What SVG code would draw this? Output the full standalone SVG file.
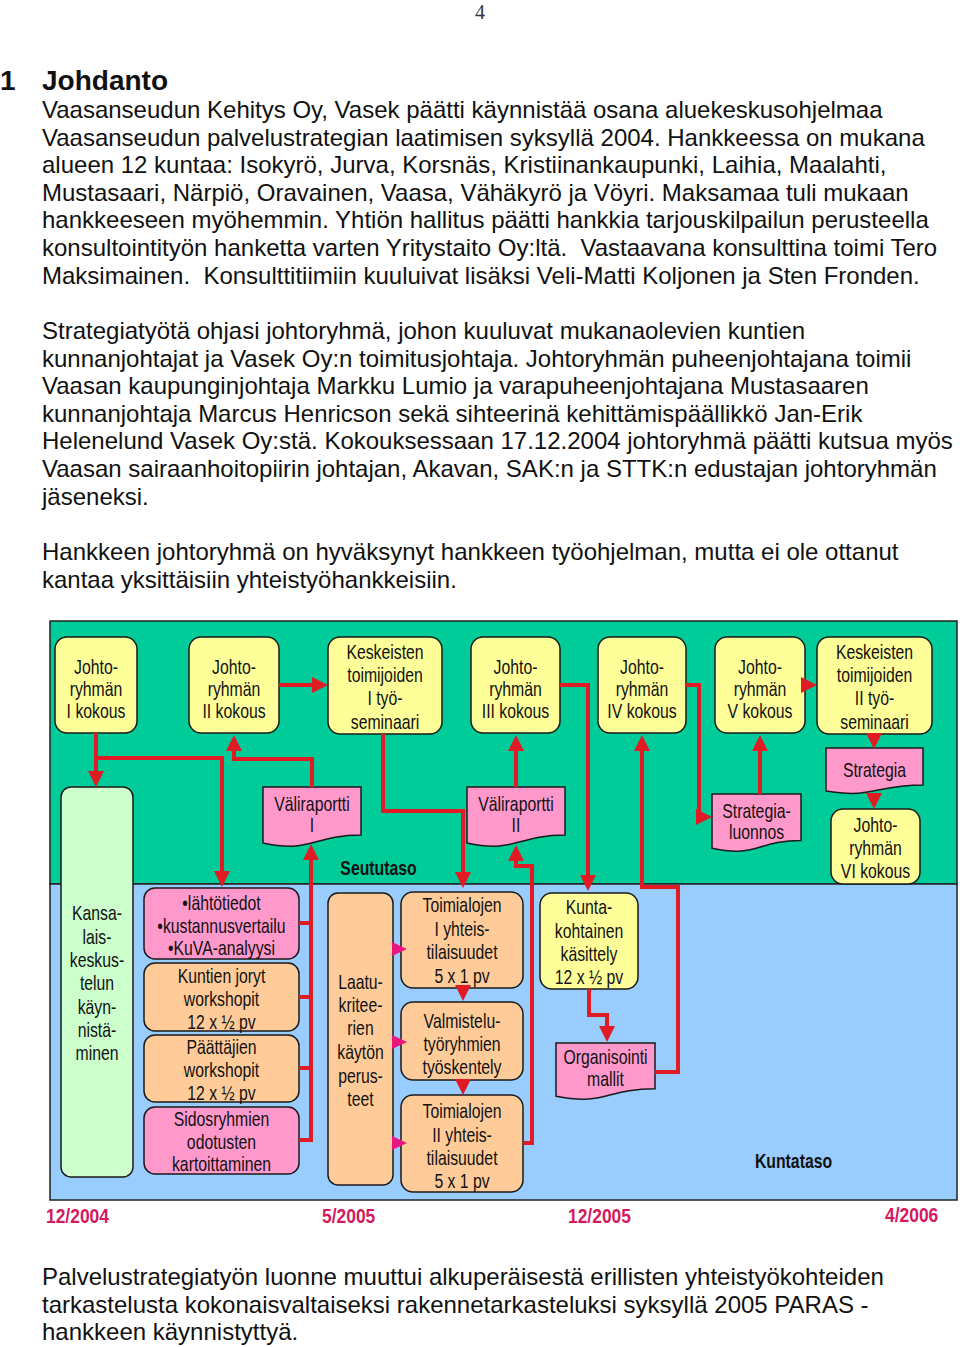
<svg xmlns="http://www.w3.org/2000/svg" width="960" height="1347" viewBox="0 0 960 1347">
<style>
.body{font-family:"Liberation Sans",Arial,sans-serif;font-size:24px;fill:#111}
.h{font-family:"Liberation Sans",Arial,sans-serif;font-size:28px;font-weight:bold;fill:#111}
.pg{font-family:"Liberation Serif","Times New Roman",serif;font-size:20px;fill:#333}
.nt{font-family:"Liberation Sans",Arial,sans-serif;font-size:20.5px;text-anchor:middle;fill:#111}
.lbl{font-family:"Liberation Sans",Arial,sans-serif;font-size:19.5px;font-weight:bold;text-anchor:middle;fill:#111}
.dt{font-family:"Liberation Sans",Arial,sans-serif;font-size:21px;font-weight:bold;fill:#d31a5f}
.yel{fill:#ffff99;stroke:#1a1a1a;stroke-width:1.5}
.lg{fill:#ccffcc;stroke:#1a1a1a;stroke-width:1.5}
.pk{fill:#ff99cc;stroke:#1a1a1a;stroke-width:1.5}
.or{fill:#ffcc99;stroke:#1a1a1a;stroke-width:1.5}
.ln{fill:none;stroke:#e01b24;stroke-width:4;stroke-linejoin:miter}
.lnm{fill:none;stroke:#e8177f;stroke-width:3}
</style>
<defs>
<marker id="ar" markerUnits="userSpaceOnUse" markerWidth="16" markerHeight="16" viewBox="0 0 16 16" refX="2" refY="8" orient="auto"><path d="M0,0 L16,8 L0,16 z" fill="#e01b24"/></marker>
<marker id="am" markerUnits="userSpaceOnUse" markerWidth="15" markerHeight="14" viewBox="0 0 15 14" refX="2" refY="7" orient="auto"><path d="M0,0 L15,7 L0,14 z" fill="#e8177f"/></marker>
</defs>
<rect x="0" y="0" width="960" height="1347" fill="#ffffff"/>

<g id="page-text">
<text class="pg" x="480" y="19" text-anchor="middle">4</text>
<text class="h" x="0" y="90">1</text>
<text class="h" x="42" y="90">Johdanto</text>
<text class="body" x="42" y="118">Vaasanseudun Kehitys Oy, Vasek päätti käynnistää osana aluekeskusohjelmaa</text>
<text class="body" x="42" y="145.6">Vaasanseudun palvelustrategian laatimisen syksyllä 2004. Hankkeessa on mukana</text>
<text class="body" x="42" y="173.2">alueen 12 kuntaa: Isokyrö, Jurva, Korsnäs, Kristiinankaupunki, Laihia, Maalahti,</text>
<text class="body" x="42" y="200.8">Mustasaari, Närpiö, Oravainen, Vaasa, Vähäkyrö ja Vöyri. Maksamaa tuli mukaan</text>
<text class="body" x="42" y="228.4">hankkeeseen myöhemmin. Yhtiön hallitus päätti hankkia tarjouskilpailun perusteella</text>
<text class="body" x="42" y="256" xml:space="preserve">konsultointityön hanketta varten Yritystaito Oy:ltä.  Vastaavana konsulttina toimi Tero</text>
<text class="body" x="42" y="283.6" xml:space="preserve">Maksimainen.  Konsulttitiimiin kuuluivat lisäksi Veli-Matti Koljonen ja Sten Fronden.</text>
<text class="body" x="42" y="339">Strategiatyötä ohjasi johtoryhmä, johon kuuluvat mukanaolevien kuntien</text>
<text class="body" x="42" y="366.6">kunnanjohtajat ja Vasek Oy:n toimitusjohtaja. Johtoryhmän puheenjohtajana toimii</text>
<text class="body" x="42" y="394.2">Vaasan kaupunginjohtaja Markku Lumio ja varapuheenjohtajana Mustasaaren</text>
<text class="body" x="42" y="421.8">kunnanjohtaja Marcus Henricson sekä sihteerinä kehittämispäällikkö Jan-Erik</text>
<text class="body" x="42" y="449.4">Helenelund Vasek Oy:stä. Kokouksessaan 17.12.2004 johtoryhmä päätti kutsua myös</text>
<text class="body" x="42" y="477">Vaasan sairaanhoitopiirin johtajan, Akavan, SAK:n ja STTK:n edustajan johtoryhmän</text>
<text class="body" x="42" y="504.6">jäseneksi.</text>
<text class="body" x="42" y="560">Hankkeen johtoryhmä on hyväksynyt hankkeen työohjelman, mutta ei ole ottanut</text>
<text class="body" x="42" y="587.6">kantaa yksittäisiin yhteistyöhankkeisiin.</text>
<text class="body" x="42" y="1285">Palvelustrategiatyön luonne muuttui alkuperäisestä erillisten yhteistyökohteiden</text>
<text class="body" x="42" y="1312.6">tarkastelusta kokonaisvaltaiseksi rakennetarkasteluksi syksyllä 2005 PARAS -</text>
<text class="body" x="42" y="1340.2">hankkeen käynnistyttyä.</text>
</g>

<g id="background">
<rect x="50" y="621" width="907" height="263" fill="#00cc99" stroke="#222" stroke-width="1.5"/>
<rect x="50" y="884" width="907" height="316" fill="#99ccff" stroke="#222" stroke-width="1.5"/>
<text class="lbl" transform="matrix(0.81 0 0 1 378.5 0)" x="0" y="875">Seututaso</text>
<text class="lbl" transform="matrix(0.81 0 0 1 793.5 0)" x="0" y="1168">Kuntataso</text>
</g>

<g id="johto1">
<rect class="yel" x="55" y="637" width="82" height="96" rx="12"/>
<text class="nt" transform="matrix(0.77 0 0 1 96 0)"><tspan x="0" y="674">Johto-</tspan><tspan x="0" y="696">ryhmän</tspan><tspan x="0" y="718">I kokous</tspan></text>
</g>
<g id="johto2">
<rect class="yel" x="189" y="637" width="90" height="96" rx="12"/>
<text class="nt" transform="matrix(0.77 0 0 1 234 0)"><tspan x="0" y="674">Johto-</tspan><tspan x="0" y="696">ryhmän</tspan><tspan x="0" y="718">II kokous</tspan></text>
</g>
<g id="seminaari1">
<rect class="yel" x="328" y="637" width="114" height="97" rx="12"/>
<text class="nt" transform="matrix(0.77 0 0 1 385 0)"><tspan x="0" y="659">Keskeisten</tspan><tspan x="0" y="682">toimijoiden</tspan><tspan x="0" y="705">I työ-</tspan><tspan x="0" y="729">seminaari</tspan></text>
</g>
<g id="johto3">
<rect class="yel" x="471" y="637" width="89" height="96" rx="12"/>
<text class="nt" transform="matrix(0.77 0 0 1 515.5 0)"><tspan x="0" y="674">Johto-</tspan><tspan x="0" y="696">ryhmän</tspan><tspan x="0" y="718">III kokous</tspan></text>
</g>
<g id="johto4">
<rect class="yel" x="598" y="637" width="88" height="96" rx="12"/>
<text class="nt" transform="matrix(0.77 0 0 1 642 0)"><tspan x="0" y="674">Johto-</tspan><tspan x="0" y="696">ryhmän</tspan><tspan x="0" y="718">IV kokous</tspan></text>
</g>
<g id="johto5">
<rect class="yel" x="715" y="637" width="90" height="96" rx="12"/>
<text class="nt" transform="matrix(0.77 0 0 1 760 0)"><tspan x="0" y="674">Johto-</tspan><tspan x="0" y="696">ryhmän</tspan><tspan x="0" y="718">V kokous</tspan></text>
</g>
<g id="seminaari2">
<rect class="yel" x="817" y="637" width="115" height="97" rx="12"/>
<text class="nt" transform="matrix(0.77 0 0 1 874.5 0)"><tspan x="0" y="659">Keskeisten</tspan><tspan x="0" y="682">toimijoiden</tspan><tspan x="0" y="705">II työ-</tspan><tspan x="0" y="729">seminaari</tspan></text>
</g>
<g id="strategia">
<path class="pk" d="M826,748 H923 V784.9 C874.5,784.9 874.5,798.9 826,791 Z"/>
<text class="nt" transform="matrix(0.77 0 0 1 874.5 0)" x="0" y="777">Strategia</text>
</g>
<g id="johto6">
<rect class="yel" x="831" y="809" width="89" height="75" rx="12"/>
<text class="nt" transform="matrix(0.77 0 0 1 875.5 0)"><tspan x="0" y="832">Johto-</tspan><tspan x="0" y="855">ryhmän</tspan><tspan x="0" y="878">VI kokous</tspan></text>
</g>
<g id="strategialuonnos">
<path class="pk" d="M712,794 H801 V840.5 C756.5,840.5 756.5,858.2 712,848.2 Z"/>
<text class="nt" transform="matrix(0.77 0 0 1 756.5 0)"><tspan x="0" y="818">Strategia-</tspan><tspan x="0" y="839">luonnos</tspan></text>
</g>
<g id="valiraportti1">
<path class="pk" d="M263,787 H361 V835.1 C312,835.1 312,853.4 263,843 Z"/>
<text class="nt" transform="matrix(0.77 0 0 1 312 0)"><tspan x="0" y="811">Väliraportti</tspan><tspan x="0" y="832">I</tspan></text>
</g>
<g id="valiraportti2">
<path class="pk" d="M467,787 H565 V835.1 C516,835.1 516,853.4 467,843 Z"/>
<text class="nt" transform="matrix(0.77 0 0 1 516 0)"><tspan x="0" y="811">Väliraportti</tspan><tspan x="0" y="832">II</tspan></text>
</g>
<g id="kansalaiskeskustelu">
<rect class="lg" x="61" y="787" width="72" height="390" rx="10"/>
<text class="nt" transform="matrix(0.77 0 0 1 97 0)"><tspan x="0" y="920">Kansa-</tspan><tspan x="0" y="944">lais-</tspan><tspan x="0" y="967">keskus-</tspan><tspan x="0" y="990">telun</tspan><tspan x="0" y="1014">käyn-</tspan><tspan x="0" y="1037">nistä-</tspan><tspan x="0" y="1060">minen</tspan></text>
</g>
<g id="lahtotiedot">
<rect class="pk" x="144" y="888" width="155" height="71" rx="11"/>
<text class="nt" transform="matrix(0.77 0 0 1 221.5 0)"><tspan x="0" y="910">•lähtötiedot</tspan><tspan x="0" y="933">•kustannusvertailu</tspan><tspan x="0" y="955">•KuVA-analyysi</tspan></text>
</g>
<g id="kuntienjoryt">
<rect class="or" x="144" y="963" width="155" height="68" rx="11"/>
<text class="nt" transform="matrix(0.77 0 0 1 221.5 0)"><tspan x="0" y="983">Kuntien joryt</tspan><tspan x="0" y="1006">workshopit</tspan><tspan x="0" y="1029">12 x ½ pv</tspan></text>
</g>
<g id="paattajien">
<rect class="or" x="144" y="1035" width="155" height="67" rx="11"/>
<text class="nt" transform="matrix(0.77 0 0 1 221.5 0)"><tspan x="0" y="1054">Päättäjien</tspan><tspan x="0" y="1077">workshopit</tspan><tspan x="0" y="1100">12 x ½ pv</tspan></text>
</g>
<g id="sidosryhmien">
<rect class="pk" x="144" y="1107" width="155" height="67" rx="11"/>
<text class="nt" transform="matrix(0.77 0 0 1 221.5 0)"><tspan x="0" y="1126">Sidosryhmien</tspan><tspan x="0" y="1149">odotusten</tspan><tspan x="0" y="1171">kartoittaminen</tspan></text>
</g>
<g id="laatukriteerit">
<rect class="or" x="328" y="893" width="65" height="292" rx="10"/>
<text class="nt" transform="matrix(0.77 0 0 1 360.5 0)"><tspan x="0" y="989">Laatu-</tspan><tspan x="0" y="1012">kritee-</tspan><tspan x="0" y="1035">rien</tspan><tspan x="0" y="1059">käytön</tspan><tspan x="0" y="1083">perus-</tspan><tspan x="0" y="1106">teet</tspan></text>
</g>
<g id="toimialojen1">
<rect class="or" x="401" y="892" width="122" height="96" rx="12"/>
<text class="nt" transform="matrix(0.77 0 0 1 462 0)"><tspan x="0" y="912">Toimialojen</tspan><tspan x="0" y="936">I yhteis-</tspan><tspan x="0" y="959">tilaisuudet</tspan><tspan x="0" y="983">5 x 1 pv</tspan></text>
</g>
<g id="valmistelu">
<rect class="or" x="401" y="1002" width="122" height="78" rx="12"/>
<text class="nt" transform="matrix(0.77 0 0 1 462 0)"><tspan x="0" y="1028">Valmistelu-</tspan><tspan x="0" y="1051">työryhmien</tspan><tspan x="0" y="1074">työskentely</tspan></text>
</g>
<g id="toimialojen2">
<rect class="or" x="401" y="1095" width="122" height="97" rx="12"/>
<text class="nt" transform="matrix(0.77 0 0 1 462 0)"><tspan x="0" y="1118">Toimialojen</tspan><tspan x="0" y="1142">II yhteis-</tspan><tspan x="0" y="1165">tilaisuudet</tspan><tspan x="0" y="1188">5 x 1 pv</tspan></text>
</g>
<g id="kuntakohtainen">
<rect class="yel" x="540" y="893" width="98" height="96" rx="12"/>
<text class="nt" transform="matrix(0.77 0 0 1 589 0)"><tspan x="0" y="914">Kunta-</tspan><tspan x="0" y="938">kohtainen</tspan><tspan x="0" y="961">käsittely</tspan><tspan x="0" y="984">12 x ½ pv</tspan></text>
</g>
<g id="organisointimallit">
<path class="pk" d="M556,1043 H655 V1088.7 C605.5,1088.7 605.5,1106.1 556,1096.2 Z"/>
<text class="nt" transform="matrix(0.77 0 0 1 605.5 0)"><tspan x="0" y="1064">Organisointi</tspan><tspan x="0" y="1086">mallit</tspan></text>
</g>

<g id="connectors">
<path class="ln" d="M96,733 V773" marker-end="url(#ar)"/>
<path class="ln" d="M96,758 H222 V873" marker-end="url(#ar)"/>
<path class="ln" d="M279,685 H314" marker-end="url(#ar)"/>
<path class="ln" d="M312,787 V759 H234 V749" marker-end="url(#ar)"/>
<path class="ln" d="M299,1140 H311 V858" marker-end="url(#ar)"/>
<path class="ln" d="M299,923 H311 M299,997 H311 M299,1068 H311"/>
<path class="ln" d="M383,734 V811 H463 V874" marker-end="url(#ar)"/>
<path class="ln" d="M516,787 V749" marker-end="url(#ar)"/>
<path class="ln" d="M523,1143 H532 V866 H516 V859" marker-end="url(#ar)"/>
<path class="ln" d="M560,685 H588 V877" marker-end="url(#ar)"/>
<path class="ln" d="M655,1072 H678 V887 H642 V749" marker-end="url(#ar)"/>
<path class="ln" d="M686,685 H699 V819"/>
<path class="ln" d="M696,817 H698" marker-end="url(#ar)"/>
<path class="ln" d="M760,794 V749" marker-end="url(#ar)"/>
<path class="ln" d="M801,685 H803" marker-end="url(#ar)"/>
<path class="ln" d="M874,733 V735" marker-end="url(#ar)"/>
<path class="ln" d="M874,793 V795" marker-end="url(#ar)"/>
<path class="ln" d="M589,989 V1015 H607 V1028" marker-end="url(#ar)"/>
<path class="ln" d="M463,985 V987" marker-end="url(#ar)"/>
<path class="ln" d="M463,1079 V1081" marker-end="url(#ar)"/>
<path class="lnm" d="M392,949 H394" marker-end="url(#am)"/>
<path class="lnm" d="M392,1042 H394" marker-end="url(#am)"/>
<path class="lnm" d="M392,1143 H394" marker-end="url(#am)"/>
</g>

<g id="dates">
<text class="dt" transform="matrix(0.83 0 0 1 46 0)" x="0" y="1223">12/2004</text>
<text class="dt" transform="matrix(0.83 0 0 1 322 0)" x="0" y="1223">5/2005</text>
<text class="dt" transform="matrix(0.83 0 0 1 568 0)" x="0" y="1223">12/2005</text>
<text class="dt" transform="matrix(0.83 0 0 1 885 0)" x="0" y="1222">4/2006</text>
</g>
</svg>
